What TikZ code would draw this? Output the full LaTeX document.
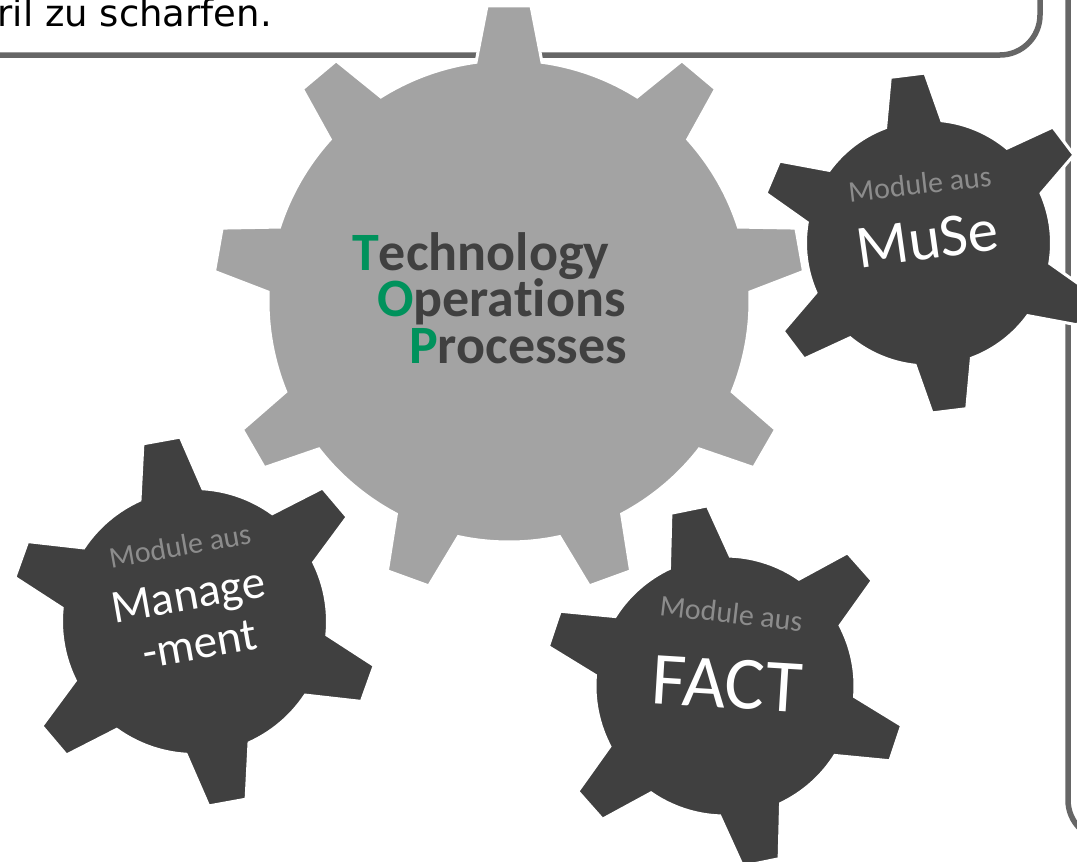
\documentclass[tikz,border=0pt]{standalone}
\usepackage{fontspec}
\newfontfamily\carlito[Ligatures=NoCommon]{Carlito}
\newfontfamily\dejavu{DejaVu Sans}
\definecolor{boxgray}{HTML}{666666}
\definecolor{biggear}{HTML}{A3A3A3}
\definecolor{darkgear}{HTML}{404040}
\definecolor{topdark}{HTML}{404040}
\definecolor{topgreen}{HTML}{00925C}
\definecolor{modgray}{HTML}{8C8C8C}
% #1 style, #2 cx, #3 cy, #4 teeth, #5 rotation, #6 root radius, #7 tip radius, #8 tip half angle, #9 base half angle
\newcommand{\gearshape}[9]{%
  \begin{scope}[shift={(#2,#3)}]
  \pgfmathsetmacro{\gstep}{360/#4}
  \path[#1] ({#5-#9}:#6pt)
    \foreach \k in {1,...,#4}{
      -- ({#5+(\k-1)*\gstep-#8}:#7pt)
      -- ({#5+(\k-1)*\gstep+#8}:#7pt)
      -- ({#5+(\k-1)*\gstep+#9}:#6pt)
      arc[start angle={#5+(\k-1)*\gstep+#9}, end angle={#5+\k*\gstep-#9}, radius=#6pt]
    } -- cycle;
  \end{scope}}
\begin{document}
\begin{tikzpicture}[x=1pt,y=-1pt,
  boxline/.style={draw=boxgray, line width=5.5pt, rounded corners=40pt},
  gearlight/.style={fill=biggear, draw=white, line width=3pt, line join=miter},
  geardark/.style={fill=darkgear, draw=white, line width=3pt, line join=miter},
  header/.style={font=\dejavu\fontsize{37}{37}\selectfont, text=black, inner sep=0pt},
  toptext/.style={font=\carlito\bfseries\fontsize{54}{54}\selectfont, text=topdark, inner sep=0pt, anchor=base west},
  modlabel/.style={font=\carlito\fontsize{30}{30}\selectfont, text=modgray, inner sep=0pt, anchor=base},
  gearlabel/.style={text=white, inner sep=0pt, anchor=base}
]
\useasboundingbox (0,0) rectangle (1077,862);
\fill[white] (0,0) rectangle (1077,862);
% frames
\draw[boxline] (-80,-80) rectangle (1040,55);
\draw[boxline] (1068,-80) rectangle (1160,840);
% gears
\gearshape{gearlight}{509}{301}{9}{90}{241}{296}{4.26}{7.87}
\gearshape{geardark}{194.5}{621.5}{6}{100.3}{133}{185}{5.9}{13.9}
\gearshape{geardark}{725}{686}{6}{101.5}{130}{181}{5.9}{13.8}
\gearshape{geardark}{928.5}{243}{6}{97.1}{123}{170}{5.9}{13.3}
% header text
\node[header, anchor=base east] (hdr) at (272,26.7) {ril zu scharfen.};
% TOP text
\node[toptext] (tech) at (352,270.7) {\textcolor{topgreen}{T}echnology};
\node[toptext] (oper) at (377,316.7) {\textcolor{topgreen}{O}perations};
\node[toptext] (proc) at (409,363.3) {\textcolor{topgreen}{P}rocesses};
% MuSe gear
\node[modlabel, rotate=6.5] (musemod) at (921,194) {Module aus};
\node[gearlabel, rotate=8, font=\carlito\fontsize{61}{61}\selectfont] (muse) at (930,259) {MuSe};
% Management gear
\node[modlabel, rotate=10] (mgmtmod) at (181.7,555.8) {Module aus};
\node[gearlabel, rotate=10, font=\carlito\fontsize{47}{47}\selectfont] (mgmt1) at (190.7,609.7) {Manage};
\node[gearlabel, rotate=10, font=\carlito\fontsize{47}{47}\selectfont] (mgmt2) at (202.5,658.5) {-ment};
% FACT gear
\node[modlabel, rotate=-6.6] (factmod) at (730,623.3) {Module aus};
\node[gearlabel, rotate=-3.5, font=\carlito\fontsize{75}{75}\selectfont] (fact) at (725.7,708) {FACT};
\end{tikzpicture}
\end{document}
